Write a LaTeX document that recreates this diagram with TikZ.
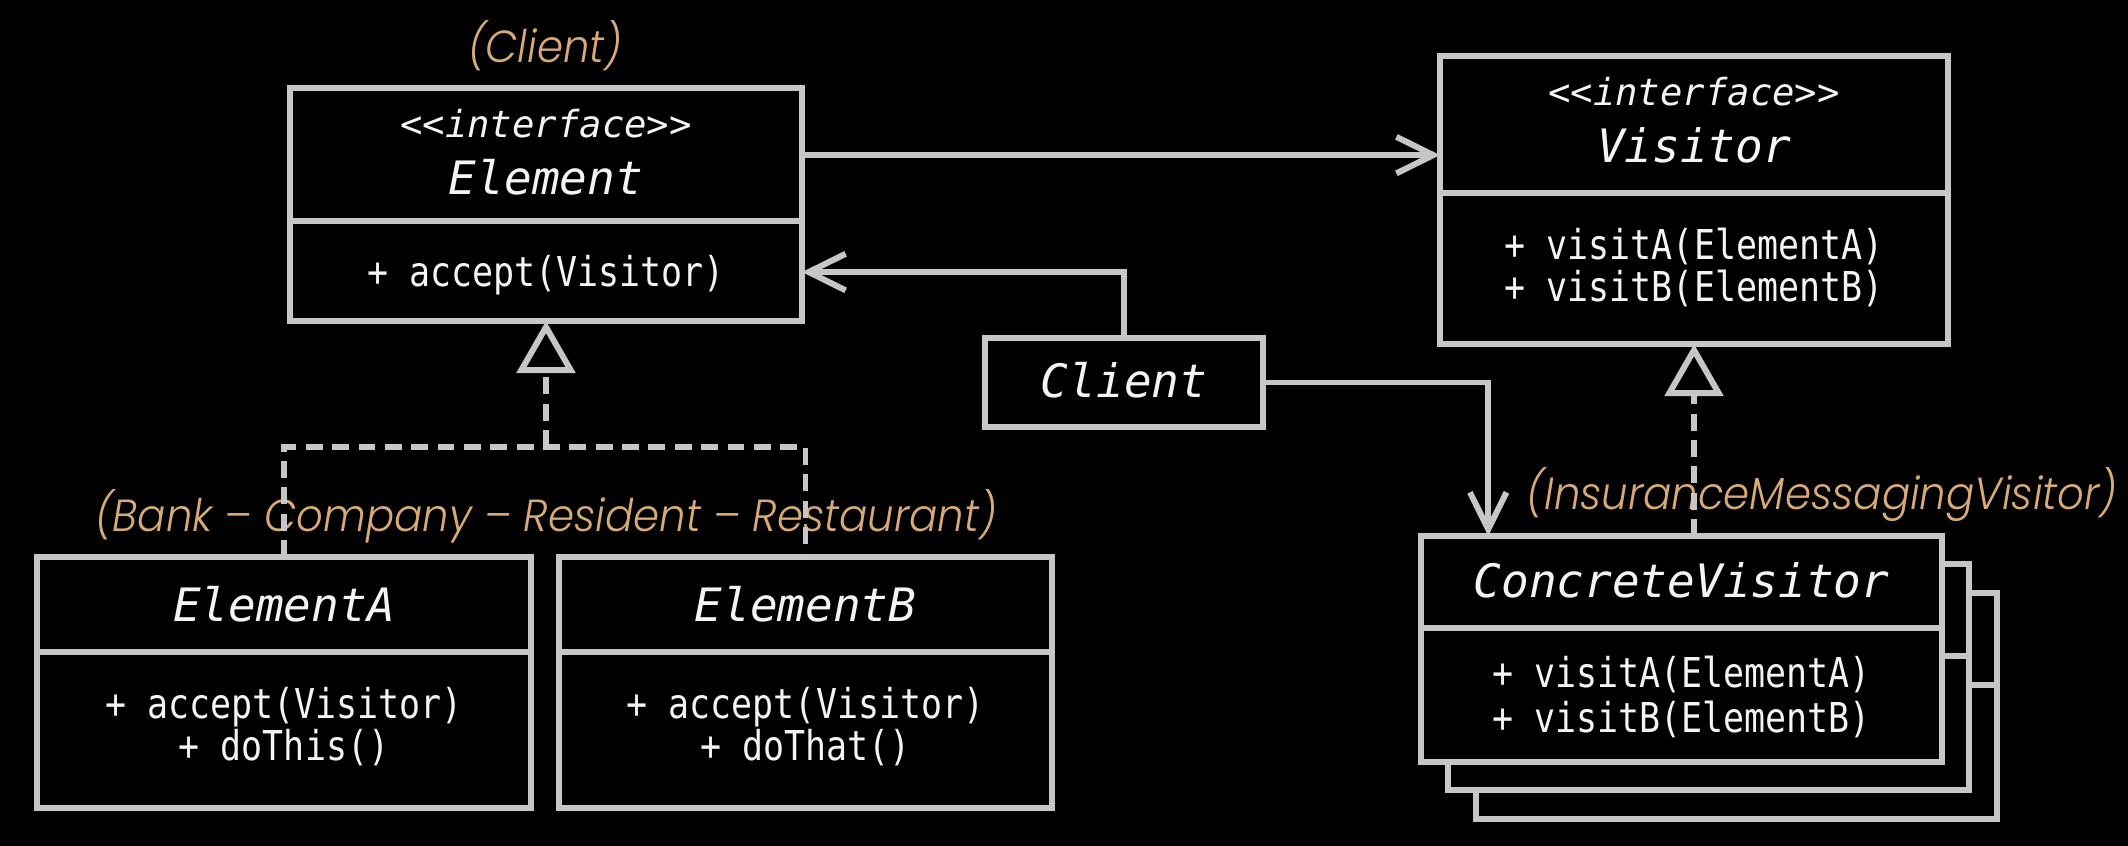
\documentclass[tikz,border=0pt]{standalone}
\usepackage{fontspec}
\usetikzlibrary{arrows.meta,calc}
\newfontfamily\clsfont{DejaVu Sans Mono}
\newfontfamily\memfont{DejaVu Sans Mono}[FakeStretch=0.85]
\IfFontExistsTF{Poppins Light}
  {\newfontfamily\labfont{Poppins Light}[FakeStretch=0.93]}
  {\newfontfamily\labfont{Poppins}[FakeStretch=0.93]}
\definecolor{linegray}{HTML}{C6C6C6}
\definecolor{labelorange}{HTML}{D8AA78}
\definecolor{txtwhite}{HTML}{F4F4F4}
\begin{document}
\begin{tikzpicture}[x=0.1mm,y=-0.1mm,
  box/.style={draw=linegray, line width=1.7pt, fill=black, inner sep=0pt, outer sep=0pt},
  divider/.style={draw=linegray, line width=1.7pt},
  clsname/.style={text=txtwhite, font=\clsfont\itshape\fontsize{13.1}{13.1}\selectfont, anchor=base, inner sep=0pt},
  stereo/.style={text=txtwhite, font=\clsfont\itshape\fontsize{10.6}{10.6}\selectfont, anchor=base, inner sep=0pt},
  member/.style={text=txtwhite, font=\memfont\fontsize{11.7}{11.7}\selectfont, anchor=base, inner sep=0pt},
  note/.style={text=labelorange, font=\labfont\itshape\fontsize{12.8}{12.8}\selectfont, anchor=base, inner sep=0pt},
  assoc/.style={draw=linegray, line width=1.7pt, -{Straight Barb[length=10.5pt,width=10.4pt]}},
  dashline/.style={draw=linegray, line width=1.7pt, dash pattern=on 4.8pt off 2.7pt},
  realize/.style={draw=linegray, line width=1.7pt, dash pattern=on 4.8pt off 2.7pt, -{Triangle[open, length=14.8pt, width=16.5pt, fill=black]}}
]
\fill[black] (0,0) rectangle (2128,846);
\useasboundingbox (0,0) rectangle (2128,846);

% boxes
\node[box, minimum width=51.2mm, minimum height=23.3mm] (element) at (546,204.5) {};
\draw[divider] ($(element.north west)+(0,133)$) -- ($(element.north east)+(0,133)$);
\node[box, minimum width=50.8mm, minimum height=28.8mm] (visitor) at (1694,200) {};
\draw[divider] ($(visitor.north west)+(0,137)$) -- ($(visitor.north east)+(0,137)$);
\node[box, minimum width=27.8mm, minimum height=8.9mm] (client) at (1124,382.5) {};
\node[box, minimum width=49.4mm, minimum height=25.1mm] (elementA) at (284,682.5) {};
\draw[divider] ($(elementA.north west)+(0,95)$) -- ($(elementA.north east)+(0,95)$);
\node[box, minimum width=49.3mm, minimum height=25.1mm] (elementB) at (805.5,682.5) {};
\draw[divider] ($(elementB.north west)+(0,95)$) -- ($(elementB.north east)+(0,95)$);
\node[box, minimum width=52.1mm, minimum height=22.6mm] (cv3) at (1736.5,706) {};
\draw[divider] ($(cv3.north west)+(0,92)$) -- ($(cv3.north east)+(0,92)$);
\node[box, minimum width=52.1mm, minimum height=22.6mm] (cv2) at (1708.5,677) {};
\draw[divider] ($(cv2.north west)+(0,92)$) -- ($(cv2.north east)+(0,92)$);
\node[box, minimum width=52.1mm, minimum height=22.6mm] (cv) at (1681.5,649) {};
\draw[divider] ($(cv.north west)+(0,92)$) -- ($(cv.north east)+(0,92)$);

% texts
\node[stereo] (elst) at (546,138) {<\kern0pt<interface>\kern0pt>};
\node[clsname] (elname) at (546,195) {Element};
\node[member] (elm1) at (546,287) {+ accept(Visitor)};

\node[stereo] (vist) at (1694,106) {<\kern0pt<interface>\kern0pt>};
\node[clsname] (viname) at (1694,163) {Visitor};
\node[member] (vim1) at (1694,260) {+ visitA(ElementA)};
\node[member] (vim2) at (1694,302) {+ visitB(ElementB)};

\node[clsname] (clname) at (1124,398) {Client};

\node[clsname] (eaname) at (284,622) {ElementA};
\node[member] (eam1) at (284,719) {+ accept(Visitor)};
\node[member] (eam2) at (284,761) {+ doThis()};

\node[clsname] (ebname) at (805.5,622) {ElementB};
\node[member] (ebm1) at (805.5,719) {+ accept(Visitor)};
\node[member] (ebm2) at (805.5,761) {+ doThat()};

\node[clsname] (cvname) at (1681.5,598) {ConcreteVisitor};
\node[member] (cvm1) at (1681.5,688) {+ visitA(ElementA)};
\node[member] (cvm2) at (1681.5,733) {+ visitB(ElementB)};

% orange notes
\node[note] (noteclient) at (545,63) {(Client)};
\node[note] (noteelems) at (546,532) {(Bank – Company – Resident – Restaurant)};
\node[note] (notevisitor) at (1822,510) {(InsuranceMessagingVisitor)};

% connectors
\coordinate (e1) at ($(element.north east)!0.288!(element.south east)$);
\draw[assoc] (e1) -- (e1 -| visitor.west);
\coordinate (e2) at ($(element.north east)!0.79!(element.south east)$);
\draw[assoc] (client.north) |- (e2);
\coordinate (cvin) at ($(cv.north west)!0.129!(cv.north east)$);
\draw[assoc] (client.east) -| (cvin);
\coordinate (jn) at ($(element.south)+(0,126)$);
\draw[dashline] (elementA.north) |- (jn) -| (elementB.north);
\draw[realize] (jn) -- (element.south);
\draw[realize] (cv.north -| visitor.south) -- (visitor.south);
\end{tikzpicture}
\end{document}
